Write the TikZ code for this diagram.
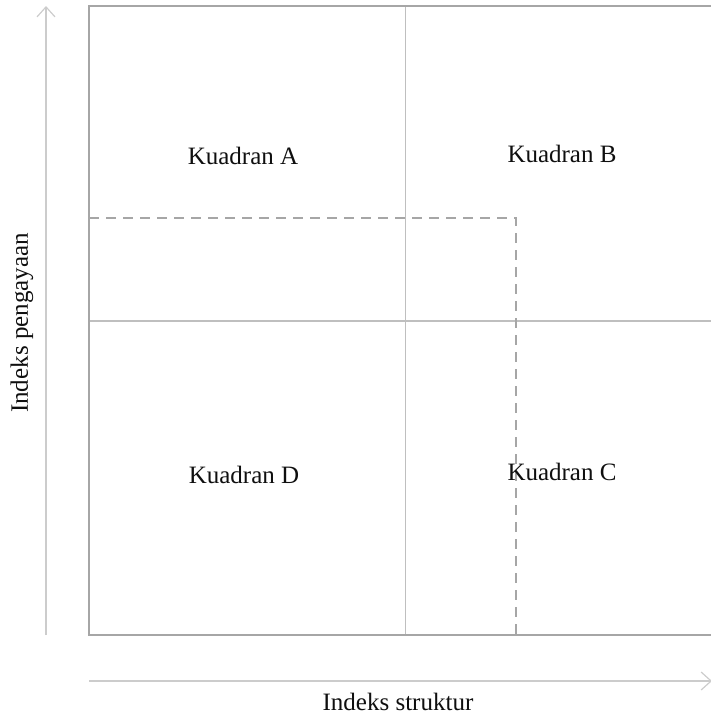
\documentclass[tikz,border=0pt]{standalone}
\usepackage{fontspec}
\setmainfont{Liberation Serif}
\usetikzlibrary{arrows.meta, positioning}
\definecolor{frameColor}{RGB}{166, 166, 166}
\definecolor{gridColor}{RGB}{191, 191, 191}
\definecolor{axisColor}{RGB}{204, 204, 204}
\definecolor{labelColor}{RGB}{15, 15, 15}
\tikzset{
    quad_frame/.style={
        draw=frameColor,
        line width=2pt
    },
    quad_grid/.style={
        draw=gridColor,
        line width=1.2pt
    },
    quad_limit/.style={
        draw=frameColor,
        line width=2pt,
        dash pattern=on 10pt off 7pt
    },
    axis_arrow/.style={
        draw=axisColor,
        line width=1.4pt,
        -{Straight Barb[length=10pt, width=18pt, line width=1.2pt]}
    },
    quad_label/.style={
        text=labelColor,
        font=\fontsize{25}{30}\selectfont,
        inner sep=0pt
    }
}

\begin{document}
\begin{tikzpicture}[x=1pt, y=-1pt]
    \useasboundingbox (0,0) rectangle (710,715);

    % corners of the matrix
    \coordinate (nw) at (89,6);
    \coordinate (se) at (712,635);
    \coordinate (mid) at (405.5,321);
    \coordinate (cut) at (516,218);

    \draw[quad_grid] (mid |- nw) -- (mid |- se);
    \draw[quad_grid] (nw |- mid) -- (se |- mid);
    \draw[quad_limit] (nw |- cut) -- (cut) -- (cut |- se);
    \draw[quad_frame] (nw) rectangle (se);

    % axes
    \coordinate (y0) at (46,635);
    \coordinate (y1) at (46,6);
    \coordinate (x0) at (89,681);
    \coordinate (x1) at (712,681);
    \draw[axis_arrow] (y0) -- (y1);
    \draw[axis_arrow] (x0) -- (x1);

    \node[quad_label] (qa) at (243,156) {Kuadran A};
    \node[quad_label] (qb) at (562,154) {Kuadran B};
    \node[quad_label] (qd) at (244,475) {Kuadran D};
    \node[quad_label] (qc) at (562,472) {Kuadran C};

    \node[quad_label, rotate=90] (ylab) at (22,323) {Indeks pengayaan};
    \node[quad_label] (xlab) at (398,702) {Indeks struktur};
\end{tikzpicture}
\end{document}
